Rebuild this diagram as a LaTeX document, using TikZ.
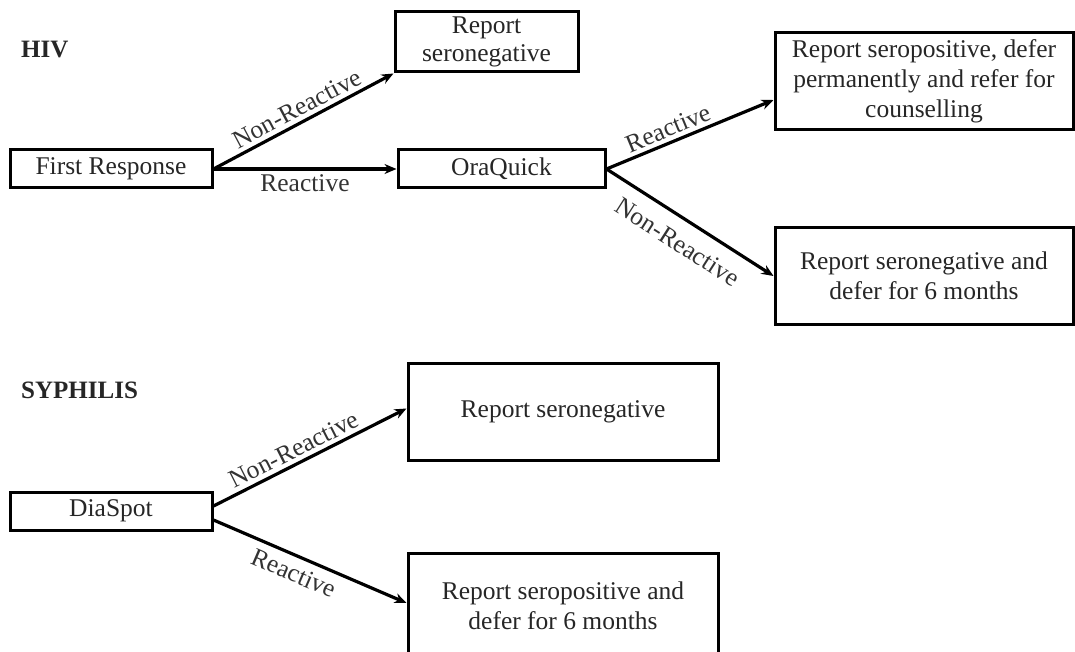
\documentclass[tikz,border=0pt]{standalone}
\usepackage{fontspec}
\setmainfont{Liberation Serif}
\usetikzlibrary{arrows.meta}
\begin{document}
\begin{tikzpicture}[x=1pt,y=-1pt,
  every node/.style={font=\fontsize{25.5}{30}\selectfont},
  box/.style={draw, line width=3pt, inner sep=0pt, align=center, text=black!85},
  conn/.style={line width=3.2pt, -{Stealth[length=12pt,width=10pt]}},
  lab/.style={sloped, text=black!80, inner sep=4pt},
  head/.style={font=\fontsize{25}{30}\selectfont\bfseries, text=black!85, anchor=west, inner sep=0pt}]
\useasboundingbox (0,0) rectangle (1075,652);
\fill[white] (0,0) rectangle (1075,652);
% headings
\node[head] (hiv) at (21,50) {HIV};
\node[head] (syph) at (21,390) {SYPHILIS};
% HIV nodes
\node[box, minimum width=202pt, minimum height=38pt] (fr) at (111,169) {First Response};
\node[box, minimum width=183pt, minimum height=60pt] (rsn1) at (486.5,42) {Report\\[-2pt]seronegative};
\node[box, minimum width=207pt, minimum height=38pt] (ora) at (501.5,169) {OraQuick};
\node[box, minimum width=298pt, minimum height=97pt] (rsp) at (924,81) {Report seropositive, defer\\permanently and refer for\\counselling};
\node[box, minimum width=298pt, minimum height=97pt] (rsn2) at (924,276) {Report seronegative and\\defer for 6 months};
% Syphilis nodes
\node[box, minimum width=202pt, minimum height=38pt] (dia) at (111,511) {DiaSpot};
\node[box, minimum width=310pt, minimum height=97pt] (srsn) at (563,411.5) {Report seronegative};
\node[box, minimum width=310pt, minimum height=106pt] (srsp) at (563,606) {Report seropositive and\\defer for 6 months};
% HIV connectors
\draw[conn] (fr.east) -- node[lab, above, pos=0.5] {Non-Reactive} (rsn1.south west);
\draw[conn] (fr.east) -- node[lab, below, pos=0.5] {Reactive} (ora.west);
\draw[conn] (ora.east) -- node[lab, above, pos=0.4] {Reactive} ([yshift=-19pt]rsp.west);
\draw[conn] (ora.east) -- node[lab, below, pos=0.5, inner sep=13pt] {Non-Reactive} (rsn2.west);
% Syphilis connectors
\draw[conn] ([yshift=5pt]dia.east) -- node[lab, above, pos=0.45] {Non-Reactive} ([yshift=3pt]srsn.west);
\draw[conn] ([yshift=-9pt]dia.east) -- node[lab, below, pos=0.45, inner sep=7pt] {Reactive} ([yshift=3pt]srsp.west);
\end{tikzpicture}
\end{document}
